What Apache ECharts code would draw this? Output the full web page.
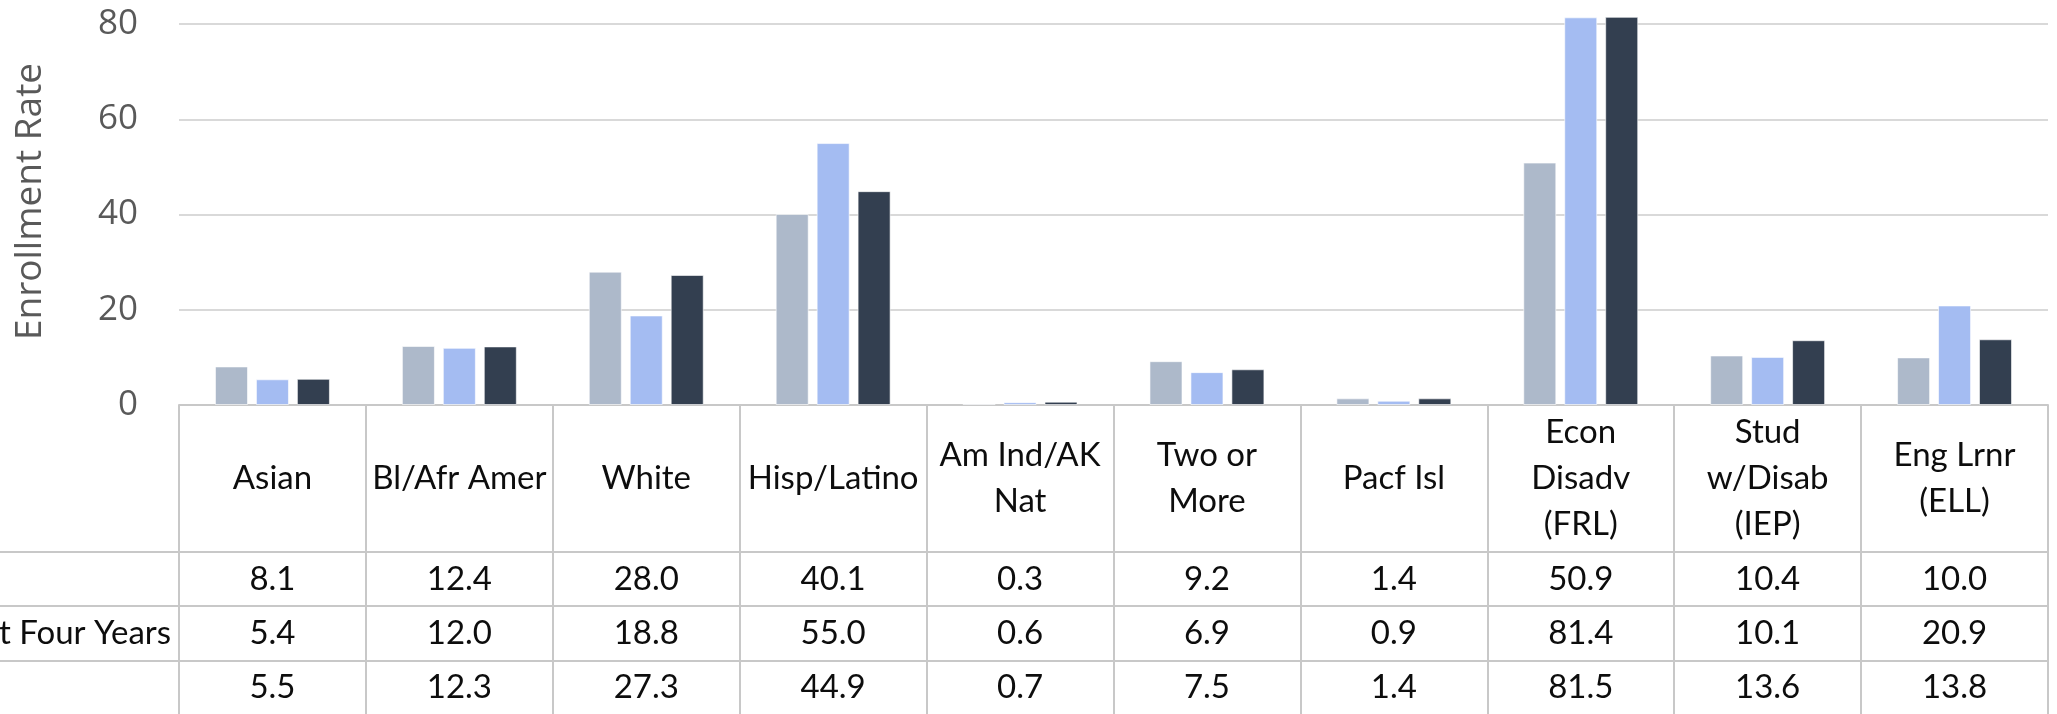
<!DOCTYPE html>
<html>
<head>
<meta charset="utf-8">
<script src="https://cdn.jsdelivr.net/npm/echarts@6/dist/echarts.min.js"></script>
<style>
html,body{margin:0;padding:0;background:#fff;}
#c{width:2057px;height:714px;}
</style>
</head>
<body>
<div id="c"></div>
<script>
var categories = ['Asian', 'Bl/Afr Amer', 'White', 'Hisp/Latino', 'Am Ind/AK\nNat', 'Two or\nMore', 'Pacf Isl', 'Econ\nDisadv\n(FRL)', 'Stud\nw/Disab\n(IEP)', 'Eng Lrnr\n(ELL)'];
var seriesNames = ['Enrollment Rate', 'Average Last Four Years', 'Enrollment Rate Current Year'];
var series1 = [8.1, 12.4, 28.0, 40.1, 0.3, 9.2, 1.4, 50.9, 10.4, 10.0];
var series2 = [5.4, 12.0, 18.8, 55.0, 0.6, 6.9, 0.9, 81.4, 10.1, 20.9];
var series3 = [5.5, 12.3, 27.3, 44.9, 0.7, 7.5, 1.4, 81.5, 13.6, 13.8];
var yTicks = [0, 20, 40, 60, 80];
var colors = ['#ADB9CA', '#A4BCF2', '#333F50'];

var allSeries = [series1, series2, series3];
var FONT = 'Lato';
var AXFONT = 'Open Sans';
var tableLine = '#C8C8C8';
var gridLeft = 179, gridRight = 9, gridTop = 24, gridBottom = 309;
var H = 714, W = 2057;
var axisY = H - gridBottom;
var rowLines = [552, 606, 661];
var rowCenters = [579, 633, 687];

var chart = echarts.init(document.getElementById('c'), null, {renderer: 'canvas'});

var xAxes = [{
  type: 'category',
  data: categories,
  gridIndex: 0,
  position: 'bottom',
  axisLine: {show: true, lineStyle: {color: tableLine, width: 2}},
  axisTick: {show: true, interval: 0, length: 330, lineStyle: {color: tableLine, width: 2}},
  axisLabel: {
    interval: 0, margin: (405 + 552) / 2 - axisY, verticalAlign: 'middle',
    color: '#0D0D0D', fontFamily: FONT, fontSize: 33, lineHeight: 46
  },
  splitLine: {show: false}
}];
allSeries.forEach(function (s, k) {
  xAxes.push({
    type: 'category',
    data: categories,
    gridIndex: 0,
    position: 'bottom',
    axisLine: {show: false},
    axisTick: {show: false},
    splitLine: {show: false},
    axisLabel: {
      interval: 0, margin: rowCenters[k] - axisY, verticalAlign: 'middle',
      color: '#0D0D0D', fontFamily: FONT, fontSize: 33,
      formatter: function (v, i) { return s[i].toFixed(1); }
    }
  });
});

var graphics = rowLines.map(function (y) {
  return {type: 'line', silent: true, shape: {x1: 0, y1: y, x2: W - gridRight, y2: y},
          style: {stroke: tableLine, lineWidth: 2}};
});
graphics.push({
  type: 'text', silent: true, x: gridLeft - 8, y: rowCenters[1],
  style: {text: seriesNames[1], fontFamily: FONT, fontSize: 33, fill: '#0D0D0D',
          align: 'right', verticalAlign: 'middle'}
});

chart.setOption({
  animation: false,
  backgroundColor: '#fff',
  grid: {left: gridLeft, right: gridRight, top: gridTop, bottom: gridBottom, containLabel: false},
  xAxis: xAxes,
  yAxis: {
    type: 'value', min: yTicks[0], max: yTicks[yTicks.length - 1], interval: 20,
    name: 'Enrollment Rate', nameLocation: 'middle', nameGap: 130,
    nameTextStyle: {color: '#595959', fontFamily: AXFONT, fontSize: 37, fontWeight: 'normal', padding: [0, 0, 0, 26]},
    axisLine: {show: false}, axisTick: {show: false},
    axisLabel: {color: '#595959', fontFamily: AXFONT, fontSize: 35, fontWeight: 'normal', margin: 41},
    splitLine: {lineStyle: {color: '#D9D9D9', width: 2}}
  },
  series: allSeries.map(function (s, k) {
    return {
      type: 'bar', name: seriesNames[k], data: s, xAxisIndex: 0, clip: false,
      barGap: '24%', barCategoryGap: '38.5%',
      itemStyle: {color: colors[k], borderColor: 'rgba(255,255,255,0.6)', borderWidth: 1}
    };
  }),
  graphic: graphics
});
</script>
</body>
</html>
